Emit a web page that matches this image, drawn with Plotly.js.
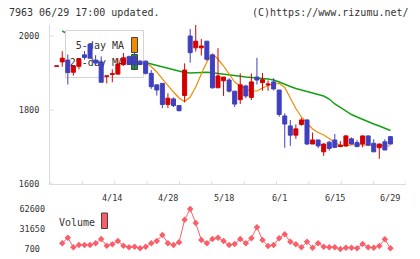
<!DOCTYPE html>
<html>
<head>
<meta charset="utf-8">
<script src="https://cdn.plot.ly/plotly-3.0.1.min.js"></script>
<style>
  html, body { margin: 0; padding: 0; background: #fff; }
  #chart { width: 420px; height: 259px; }
</style>
</head>
<body>
<div id="chart"></div>
<script>
// Trading days (2020)
const days = ['3/31','4/1','4/2','4/3','4/6','4/7','4/8','4/9','4/10','4/13','4/14','4/15','4/16','4/17',
  '4/20','4/21','4/22','4/23','4/24','4/27','4/28','4/30','5/1','5/7','5/8','5/11','5/12','5/13','5/14','5/15',
  '5/18','5/19','5/20','5/21','5/22','5/25','5/26','5/27','5/28','5/29','6/1','6/2','6/3','6/4','6/5',
  '6/8','6/9','6/10','6/11','6/12','6/15','6/16','6/17','6/18','6/19','6/22','6/23','6/24','6/25','6/26','6/29'];

const open  = [1918,1930,1935,1902,1918,1949,1978,1935,1930,1891,1896,1897,1923,1944,1944,1932,1932,1899,1868,1872,
  1815,1830,1812,1839,2000,1968,1968,1986,1949,1860,1879,1881,1851,1828,1865,1834,1889,1874,1868,1876,
  1854,1784,1757,1732,1761,1773,1708,1719,1687,1713,1719,1701,1703,1722,1712,1708,1730,1710,1698,1714,1728];
const high  = [1919,1959,1950,1920,1939,1959,1980,1948,1945,1892,1910,1940,1954,1947,1955,1935,1934,1908,1868,1872,
  1845,1834,1812,1926,2019,2030,1992,1986,1949,1967,1889,1886,1851,1899,1868,1899,1941,1900,1880,1886,
  1854,1791,1773,1761,1778,1775,1739,1720,1710,1717,1735,1716,1732,1726,1719,1731,1731,1721,1709,1721,1729];
const low   = [1918,1917,1869,1893,1910,1936,1939,1921,1874,1872,1875,1896,1923,1922,1912,1921,1896,1857,1839,1805,
  1805,1808,1797,1821,1928,1958,1947,1933,1858,1860,1838,1847,1808,1816,1832,1827,1869,1852,1852,1853,
  1782,1698,1703,1722,1758,1706,1708,1697,1676,1690,1697,1700,1701,1707,1700,1699,1704,1686,1668,1691,1707];
const close = [1919,1940,1901,1919,1938,1942,1940,1927,1875,1892,1898,1924,1941,1923,1922,1923,1899,1863,1854,1815,
  1832,1812,1798,1908,1955,1986,1973,1937,1860,1892,1889,1851,1816,1868,1838,1876,1881,1882,1870,1857,
  1788,1762,1732,1749,1773,1708,1719,1703,1708,1696,1699,1705,1730,1708,1701,1730,1705,1687,1708,1692,1708];

const ma5 = [null,null,null,null,null,1923,1928,1932,1933,1925,1915,1906,1903,1906,1916,1922,
  1927,1917.6,1902.7,1883.8,1864.9,1848.6,1832.4,1822.4,1835.1,1862.2,1897.3,1929.7,1951.4,1937.8,
  1918.9,1897.3,1875.7,1864.9,1856.8,1851.4,1851.4,1859.5,1866.2,1870.3,1871.6,1860.8,1831.1,1804.1,
  1781.1,1764.9,1748.6,1739.2,1732.4,1723.0,1712.2,1704.1,1702.7,1705.4,1706.8,1705.4,1705.4,1702.7,
  1702.7,1702.7,1702.7];
const ma25 = [null,2013.5,2005.4,1997.3,1991.9,1986.5,1981.1,1975.7,1970.3,1964.9,1959.5,1954.1,1948.6,
  1943.2,1937.8,1932.4,1928.4,1924.3,1920.3,1916.2,1912.7,1909.5,1905.4,1901.4,1900.0,1900.8,1901.9,
  1901.9,1900.8,1898.6,1895.9,1894.6,1893.2,1891.1,1889.2,1888.4,1887.0,1885.1,1883.8,1881.1,1875.7,
  1868.9,1863.5,1858.1,1853.2,1850.0,1845.9,1841.9,1837.8,1829.7,1816.2,1806.8,1797.3,1787.8,1781.1,
  1774.3,1767.6,1762.2,1756.8,1751.4,1744.6];

const volume = [null,9600,18300,3350,6900,6900,7000,9600,16300,5800,8000,13200,5800,3400,4300,1800,4300,
  9600,13200,22500,9600,6900,11100,45900,62600,40800,14700,9600,16300,18300,13200,6900,8500,16300,9600,
  17400,34500,14700,5400,6900,17400,23600,12100,8000,3400,12100,2700,9600,4300,3400,3400,700,2700,2700,
  1800,8500,3400,2700,5400,15800,1800];

const dateLabels = ['4/14','4/28','5/18','6/1','6/15','6/29'];
const priceTicks = [1600, 1800, 2000];

// ---- page geometry (pixels) ----
const W = 420, H = 259;
const L = 50, R = 406, T = 25, B = 249;
const PRICE_BOTTOM = 184, VOL_TOP = 209;
const MONO = '"DejaVu Sans Mono", "Liberation Mono", monospace';
const INK = '#333';
const AXIS = '#dcdcdc';
const UP = '#d40000', DOWN = '#4040bf';
const ORANGE = '#f08c00', GREEN = '#14a014', PINK = '#fa5f69';

const idx = days.map((d, i) => i);
const xRange = [-1.2, 62.8];
const yRange = [1600, 1600 + (PRICE_BOTTOM - T) * 400 / 148];

const vMin = Math.min(...volume.filter(v => v != null));
const vMax = Math.max(...volume.filter(v => v != null));
const volumeTicks = [vMin, (vMin + vMax) / 2, vMax];

// pixel -> data helpers for decorations inside the price panel
const px2x = p => xRange[0] + (p - L) * (xRange[1] - xRange[0]) / (R - L);
const py2y = p => 1600 + (PRICE_BOTTOM - p) * 400 / 148;
const pxPaper = p => (p - L) / (R - L);
const pyPaper = p => (B - p) / (B - T);
const priceDomain = [pyPaper(PRICE_BOTTOM), 1];

function rect(x0, x1, y0, y1) {
  return {
    x: [px2x(x0), px2x(x1), px2x(x1), px2x(x0), px2x(x0)],
    y: [py2y(y0), py2y(y0), py2y(y1), py2y(y1), py2y(y0)]
  };
}

const traces = [];

// moving averages (lower price layer)
traces.push({ x: idx, y: ma25, type: 'scatter', mode: 'lines', xaxis: 'x', yaxis: 'y',
  line: { color: GREEN, width: 1.5 }, hoverinfo: 'skip', showlegend: false });
traces.push({ x: idx, y: ma5, type: 'scatter', mode: 'lines', xaxis: 'x', yaxis: 'y',
  line: { color: ORANGE, width: 1.2 }, hoverinfo: 'skip', showlegend: false });

// legend panel sits above the averages but beneath the candles
const box = rect(65.5, 143.5, 30.5, 77.5);
traces.push(Object.assign({ type: 'scatter', mode: 'lines', fill: 'toself', fillcolor: '#ffffff',
  line: { color: '#d4d4d4', width: 1 }, xaxis: 'x', yaxis: 'y', hoverinfo: 'skip', showlegend: false }, box));
[[ORANGE, 37.5, 52.5], [GREEN, 54.5, 69.5]].forEach(([c, y0, y1]) => {
  traces.push(Object.assign({ type: 'scatter', mode: 'lines', fill: 'toself', fillcolor: c,
    line: { color: '#444', width: 1 }, xaxis: 'x', yaxis: 'y', hoverinfo: 'skip', showlegend: false },
    rect(131.5, 137.5, y0, y1)));
});
traces.push({ type: 'scatter', mode: 'text', x: [px2x(124), px2x(124)], y: [py2y(46), py2y(63)],
  text: ['5-day MA', '25-day MA'], textposition: 'middle left',
  textfont: { family: MONO, size: 10, color: INK }, xaxis: 'x', yaxis: 'y',
  hoverinfo: 'skip', showlegend: false });

// candles: a second subplot sharing the price panel's area, drawn after it
traces.push({ type: 'candlestick', x: idx, open: open, high: high, low: low, close: close,
  xaxis: 'x2', yaxis: 'y2', showlegend: false, hoverinfo: 'skip', whiskerwidth: 0,
  increasing: { line: { color: UP, width: 1 }, fillcolor: UP },
  decreasing: { line: { color: DOWN, width: 1 }, fillcolor: DOWN } });

// volume
traces.push({ type: 'scatter', mode: 'lines+markers', x: idx, y: volume, xaxis: 'x3', yaxis: 'y3',
  line: { color: PINK, width: 1 }, marker: { symbol: 'diamond', size: 5, color: PINK },
  cliponaxis: false, hoverinfo: 'skip', showlegend: false });

const shapes = [];
// x ticks crossing the axis line
const nTicks = 11;
for (let k = 0; k <= nTicks; k++) {
  const xv = xRange[0] + k * (xRange[1] - xRange[0]) / nTicks;
  shapes.push({ type: 'line', xref: 'x', yref: 'y', ysizemode: 'pixel', yanchor: 1600,
    x0: xv, x1: xv, y0: -3.5, y1: 3, line: { color: AXIS, width: 1 } });
}
// y ticks crossing the axis line
priceTicks.forEach(t => {
  shapes.push({ type: 'line', xref: 'x', yref: 'y', xsizemode: 'pixel', xanchor: xRange[0],
    x0: -5, x1: 3.5, y0: t, y1: t, line: { color: AXIS, width: 1 } });
});
// volume legend swatch
shapes.push({ type: 'rect', xref: 'paper', yref: 'paper',
  x0: pxPaper(101.5), x1: pxPaper(107.5), y0: pyPaper(228.5), y1: pyPaper(213),
  fillcolor: PINK, line: { color: '#444', width: 1 } });

const annotations = [];
annotations.push({ xref: 'paper', yref: 'paper', x: pxPaper(7), y: pyPaper(13), xanchor: 'left',
  yanchor: 'middle', showarrow: false, text: '7963 06/29 17:00 updated.',
  font: { family: MONO, size: 10, color: INK } });
annotations.push({ xref: 'paper', yref: 'paper', x: pxPaper(411), y: pyPaper(13), xanchor: 'right',
  yanchor: 'middle', showarrow: false, text: '(C)https://www.rizumu.net/',
  font: { family: MONO, size: 10, color: INK } });
dateLabels.forEach(d => {
  annotations.push({ xref: 'x', yref: 'paper', x: days.indexOf(d), y: pyPaper(198), xanchor: 'center',
    yanchor: 'middle', showarrow: false, text: d, font: { family: MONO, size: 8.5, color: INK } });
});
annotations.push({ xref: 'paper', yref: 'paper', x: pxPaper(57), y: pyPaper(222), xanchor: 'left',
  yanchor: 'middle', showarrow: false, text: 'Volume', font: { family: MONO, size: 10, color: INK } });

const pad = s => '\u00a0'.repeat(Math.max(0, Math.floor((5 - s.length) / 2))) + s +
  '\u00a0'.repeat(Math.max(0, Math.ceil((5 - s.length) / 2)));

const hidden = { showline: false, showgrid: false, zeroline: false, ticks: '', showticklabels: false,
  fixedrange: true };

const layout = {
  width: W, height: H,
  margin: { l: L, r: W - R, t: T, b: H - B, pad: 0 },
  paper_bgcolor: '#fff', plot_bgcolor: 'rgba(0,0,0,0)',
  showlegend: false,
  boxgap: 0.2, boxgroupgap: 0.1,
  xaxis: { domain: [0, 1], range: xRange, anchor: 'y', showline: true,
    linecolor: AXIS, linewidth: 1, ticks: '', showticklabels: false, showgrid: false,
    zeroline: false, fixedrange: true },
  yaxis: { domain: priceDomain, range: yRange, anchor: 'x',
    showline: true, linecolor: AXIS, linewidth: 1, ticks: '', tickvals: priceTicks,
    ticktext: priceTicks.map(String), tickfont: { family: MONO, size: 8.5, color: INK },
    ticklabelstandoff: 8, showgrid: false, zeroline: false, fixedrange: true },
  xaxis2: Object.assign({ domain: [0, 1], anchor: 'y2', range: xRange,
    rangeslider: { visible: false } }, hidden),
  yaxis2: Object.assign({ domain: priceDomain, anchor: 'x2', range: yRange }, hidden),
  xaxis3: Object.assign({ domain: [0, 1], anchor: 'y3', range: xRange }, hidden),
  yaxis3: { domain: [0, pyPaper(VOL_TOP)], anchor: 'x3', range: [vMin, vMax],
    showline: false, ticks: '', tickvals: volumeTicks, ticktext: volumeTicks.map(v => pad(String(v))),
    tickfont: { family: MONO, size: 8.5, color: INK }, ticklabelstandoff: 4,
    showgrid: false, zeroline: false, fixedrange: true },
  shapes: shapes,
  annotations: annotations
};

Plotly.newPlot('chart', traces, layout, { displayModeBar: false, staticPlot: true });
</script>
</body>
</html>
